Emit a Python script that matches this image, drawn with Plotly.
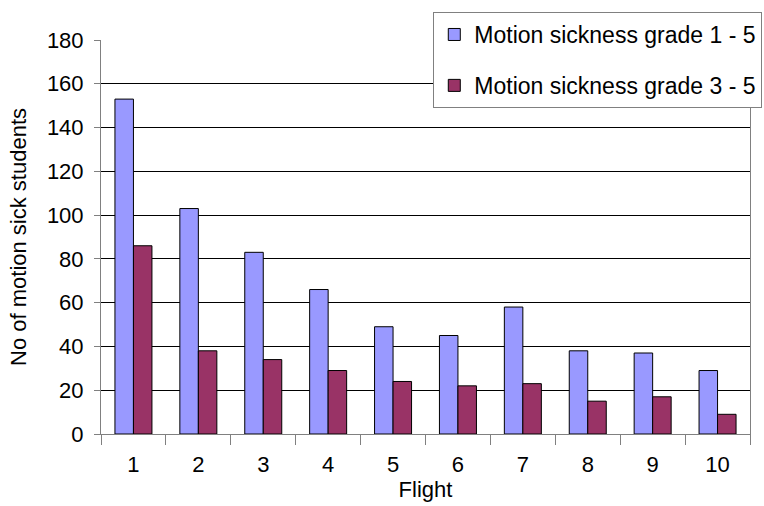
import plotly.graph_objects as go

flights = ["1", "2", "3", "4", "5", "6", "7", "8", "9", "10"]
grade_1_5 = [153, 103, 83, 66, 49, 45, 58, 38, 37, 29]
grade_3_5 = [86, 38, 34, 29, 24, 22, 23, 15, 17, 9]
y_ticks = [0, 20, 40, 60, 80, 100, 120, 140, 160, 180]

FONT = "Liberation Sans, Arial, sans-serif"

fig = go.Figure()
fig.add_trace(go.Bar(
    x=flights, y=grade_1_5, name="Motion sickness grade 1 - 5",
    marker=dict(color="#9999FF", line=dict(color="#000000", width=1)),
    legendgroup="a",
))
fig.add_trace(go.Bar(
    x=flights, y=grade_3_5, name="Motion sickness grade 3 - 5",
    marker=dict(color="#993366", line=dict(color="#000000", width=1)),
    legendgroup="b",
))

fig.update_layout(
    width=764, height=506,
    margin=dict(l=101, r=14, t=40, b=72, autoexpand=False),
    paper_bgcolor="white", plot_bgcolor="white",
    font=dict(family=FONT, size=22, color="#000000"),
    barmode="group", bargap=0.43, bargroupgap=0,
    showlegend=True,
    legend=dict(
        x=0.512, y=1.071, xanchor="left", yanchor="top",
        bgcolor="white", bordercolor="#808080", borderwidth=1,
        font=dict(family=FONT, size=23, color="#000000"),
        traceorder="grouped", tracegroupgap=18,
    ),
    xaxis=dict(
        type="category", title=dict(text="Flight", font=dict(size=22), standoff=1),
        showline=True, linecolor="#808080", linewidth=1,
        ticks="outside", tickson="boundaries", ticklen=10, tickcolor="#808080",
        ticklabelstandoff=11,
        showgrid=False, zeroline=False,
    ),
    yaxis=dict(
        range=[0, 180], tickvals=y_ticks,
        title=dict(text="No of motion sick students", font=dict(size=22), standoff=14),
        showline=True, mirror=True, linecolor="#808080", linewidth=1,
        ticks="outside", ticklen=6, tickcolor="#808080",
        ticklabelstandoff=6,
        showgrid=True, gridcolor="#000000", gridwidth=1, zeroline=False,
    ),
)

fig.write_html("out.html")
